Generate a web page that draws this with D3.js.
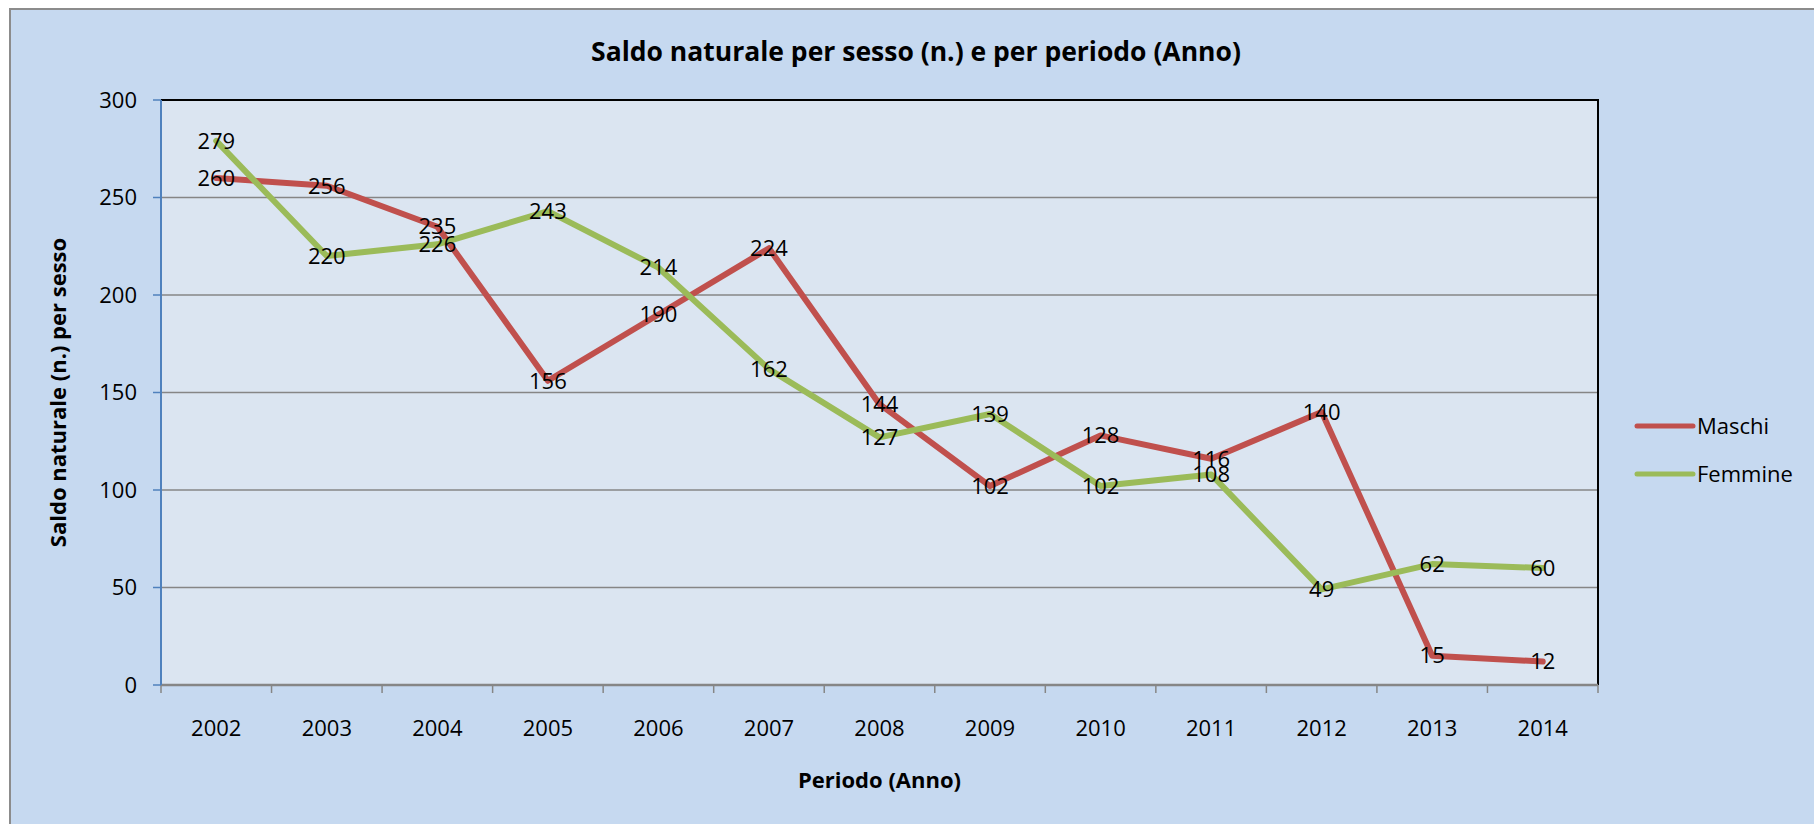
<!DOCTYPE html>
<html>
  <head>
    <meta charset="utf-8">
    <title>Saldo naturale per sesso</title>
    <script src="https://d3js.org/d3.v7.min.js"></script>
    <style>
      body { margin: 0; background: #fff; }
      text { font-family: "Open Sans", sans-serif; }
    </style>
  </head>
  <body>
    <div id="chart"></div>
    <script>
      // dati
      var anni = ["2002", "2003", "2004", "2005", "2006", "2007", "2008", "2009", "2010", "2011", "2012", "2013", "2014"];
      var maschi = [260, 256, 235, 156, 190, 224, 144, 102, 128, 116, 140, 15, 12];
      var femmine = [279, 220, 226, 243, 214, 162, 127, 139, 102, 108, 49, 62, 60];
      var yTicks = [0, 50, 100, 150, 200, 250, 300];

      var series = [
        { name: "Maschi", values: maschi, color: "#C0504D" },
        { name: "Femmine", values: femmine, color: "#9BBB59" }
      ];

      var width = 1814, height = 824;
      // margini dell'area del tracciato
      var plotLeft = 161, plotRight = 1598, plotTop = 100, plotBottom = 685;

      var svg = d3.select("#chart").append("svg")
        .attr("width", width)
        .attr("height", height);

      // sfondo area grafico
      svg.append("rect")
        .attr("x", 10).attr("y", 9)
        .attr("width", width + 20).attr("height", height + 20)
        .style("fill", "#C6D9F0")
        .style("stroke", "#8C8C8C")
        .style("stroke-width", 2);

      var x = d3.scaleBand().domain(anni).range([plotLeft, plotRight]);
      var y = d3.scaleLinear().domain([0, 300]).range([plotBottom, plotTop]);

      // area del tracciato
      svg.append("rect")
        .attr("x", plotLeft).attr("y", plotTop)
        .attr("width", plotRight - plotLeft).attr("height", plotBottom - plotTop)
        .style("fill", "#DBE5F1");

      svg.selectAll(".grid")
        .data(yTicks.slice(1, -1))
        .enter().append("line")
        .attr("x1", plotLeft).attr("x2", plotRight)
        .attr("y1", function(d) { return y(d); })
        .attr("y2", function(d) { return y(d); })
        .style("stroke", "#868686")
        .style("stroke-width", 1.5);

      // bordo superiore e destro
      svg.append("path")
        .attr("d", "M" + plotLeft + "," + plotTop + "H" + plotRight + "V" + plotBottom)
        .style("fill", "none")
        .style("stroke", "#000")
        .style("stroke-width", 2);

      // asse x
      var xAxis = svg.append("g")
        .attr("transform", "translate(0," + plotBottom + ")");
      xAxis.append("line")
        .attr("x1", plotLeft).attr("x2", plotRight)
        .style("stroke", "#868686").style("stroke-width", 2.5);
      var xBounds = anni.map(function(d) { return x(d); }).concat([plotRight]);
      xAxis.selectAll(".tick")
        .data(xBounds)
        .enter().append("line")
        .attr("x1", function(d) { return d; })
        .attr("x2", function(d) { return d; })
        .attr("y1", 0).attr("y2", 8)
        .style("stroke", "#868686").style("stroke-width", 1.5);
      xAxis.selectAll(".lab")
        .data(anni)
        .enter().append("text")
        .attr("x", function(d) { return x(d) + x.bandwidth() / 2; })
        .attr("y", 43)
        .attr("dy", "0.35em")
        .attr("text-anchor", "middle")
        .style("font-size", "22px")
        .text(function(d) { return d; });

      // asse y
      var yAxis = svg.append("g");
      yAxis.append("line")
        .attr("x1", plotLeft).attr("x2", plotLeft)
        .attr("y1", plotTop).attr("y2", plotBottom)
        .style("stroke", "#4F81BD").style("stroke-width", 2);
      yAxis.selectAll(".tick")
        .data(yTicks)
        .enter().append("line")
        .attr("x1", plotLeft - 8).attr("x2", plotLeft)
        .attr("y1", function(d) { return y(d); })
        .attr("y2", function(d) { return y(d); })
        .style("stroke", "#4F81BD").style("stroke-width", 1.5);
      yAxis.selectAll(".lab")
        .data(yTicks)
        .enter().append("text")
        .attr("x", plotLeft - 24)
        .attr("y", function(d) { return y(d); })
        .attr("dy", "0.35em")
        .attr("text-anchor", "end")
        .style("font-size", "22px")
        .text(function(d) { return d; });

      // linee
      var line = d3.line()
        .x(function(d, i) { return x(anni[i]) + x.bandwidth() / 2; })
        .y(function(d) { return y(d); });

      series.forEach(function(s) {
        svg.append("path")
          .attr("d", line(s.values))
          .style("fill", "none")
          .style("stroke", s.color)
          .style("stroke-width", 6)
          .style("stroke-linejoin", "round")
          .style("stroke-linecap", "round");
      });

      // etichette dati
      series.forEach(function(s) {
        svg.append("g").selectAll("text")
          .data(s.values)
          .enter().append("text")
          .attr("x", function(d, i) { return x(anni[i]) + x.bandwidth() / 2; })
          .attr("y", function(d) { return y(d); })
          .attr("dy", "0.35em")
          .attr("text-anchor", "middle")
          .style("font-size", "22px")
          .text(function(d) { return d; });
      });

      // titoli
      svg.append("text")
        .attr("x", 916).attr("y", 52)
        .attr("dy", "0.35em")
        .attr("text-anchor", "middle")
        .style("font-size", "26.5px")
        .style("font-weight", "bold")
        .text("Saldo naturale per sesso (n.) e per periodo (Anno)");

      svg.append("text")
        .attr("x", (plotLeft + plotRight) / 2).attr("y", 780)
        .attr("dy", "0.35em")
        .attr("text-anchor", "middle")
        .style("font-size", "22px")
        .style("font-weight", "bold")
        .text("Periodo (Anno)");

      svg.append("text")
        .attr("transform", "translate(58," + (plotTop + plotBottom) / 2 + ") rotate(-90)")
        .attr("dy", "0.35em")
        .attr("text-anchor", "middle")
        .style("font-size", "22px")
        .style("font-weight", "bold")
        .text("Saldo naturale (n.) per sesso");

      // legenda
      var legend = svg.append("g").selectAll("g")
        .data(series)
        .enter().append("g")
        .attr("transform", function(d, i) { return "translate(1637," + (426 + i * 48) + ")"; });
      legend.append("line")
        .attr("x1", 0).attr("x2", 56)
        .style("stroke", function(d) { return d.color; })
        .style("stroke-width", 5)
        .style("stroke-linecap", "round");
      legend.append("text")
        .attr("x", 60)
        .attr("dy", "0.35em")
        .style("font-size", "22px")
        .text(function(d) { return d.name; });
    </script>
  </body>
</html>
